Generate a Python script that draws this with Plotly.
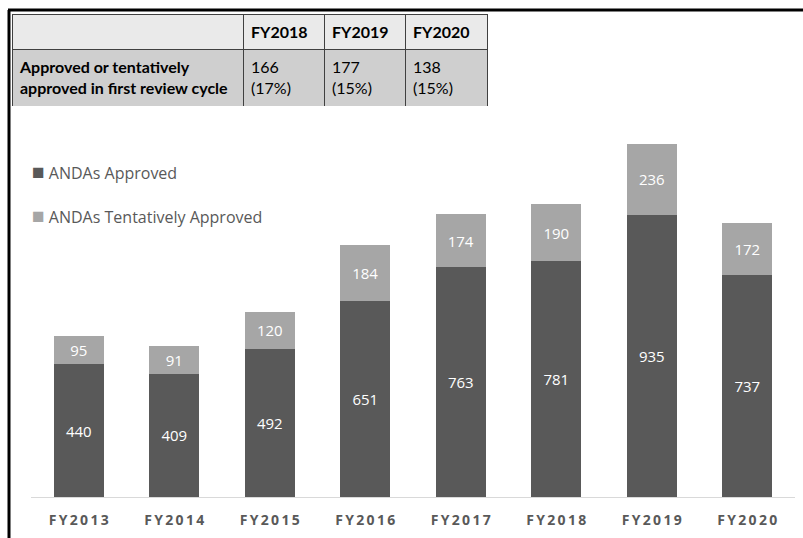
import plotly.graph_objects as go

# ---- data ----
years = ["FY2013", "FY2014", "FY2015", "FY2016", "FY2017", "FY2018", "FY2019", "FY2020"]
approved = [440, 409, 492, 651, 763, 781, 935, 737]
tentative = [95, 91, 120, 184, 174, 190, 236, 172]
series_names = ["ANDAs Approved", "ANDAs Tentatively Approved"]

table_years = ["FY2018", "FY2019", "FY2020"]
first_cycle_counts = [166, 177, 138]
first_cycle_pct = [17, 15, 15]
table_row_label = "Approved or tentatively<br>approved in first review cycle"

W, H = 803, 538
DARK = "#595959"
LIGHT = "#A6A6A6"

def px(x):
    return x / W

def py(y):
    return 1 - y / H

def spaced(s):
    return "\u2009".join(s)

fig = go.Figure()

for vals, name, col in [(approved, series_names[0], DARK), (tentative, series_names[1], LIGHT)]:
    fig.add_trace(go.Bar(
        x=years, y=vals, name=name,
        marker=dict(color=col, line=dict(width=0)),
        text=[str(v) for v in vals], textposition="inside",
        insidetextanchor="middle",
        textfont=dict(color="white", size=15, family="Open Sans"),
        width=0.52, showlegend=False, hoverinfo="skip",
    ))

fig.add_trace(go.Table(
    domain=dict(x=[px(12), px(487)], y=[py(106), py(14)]),
    columnwidth=[231, 81, 81, 82],
    header=dict(
        values=[""] + ["<b>%s</b>" % y for y in table_years],
        fill_color="#EAEAEA",
        line=dict(color="#404040", width=1),
        align="left",
        font=dict(family="Lato", size=16, color="black"),
        height=33,
    ),
    cells=dict(
        values=[["<b>%s</b>" % table_row_label]] +
               [["%d<br>(%d%%)" % (c, p)] for c, p in zip(first_cycle_counts, first_cycle_pct)],
        fill_color="#CFCFCF",
        line=dict(color="#404040", width=1),
        align="left",
        font=dict(family="Lato", size=16, color="black"),
        height=58,
    ),
))

legend_anns = []
for i, (name, col) in enumerate(zip(series_names, [DARK, LIGHT])):
    legend_anns.append(dict(
        xref="paper", yref="paper", x=px(30), y=py(171 + 44 * i),
        xanchor="left", yanchor="middle", showarrow=False,
        text="<span style='color:%s;font-size:21px'>■</span> %s" % (col, name),
        font=dict(family="Open Sans", size=16, color=DARK),
    ))

fig.update_layout(
    width=W, height=H,
    margin=dict(l=0, r=0, t=0, b=0),
    paper_bgcolor="white", plot_bgcolor="white",
    barmode="stack",
    showlegend=False,
    annotations=legend_anns,
    xaxis=dict(
        domain=[px(31), px(795)], range=[-0.5, 7.5],
        showline=True, linecolor="#D9D9D9", linewidth=1,
        showgrid=False, ticks="", automargin=False,
        tickmode="array", tickvals=years,
        ticktext=["<b>%s</b>" % spaced(y) for y in years],
        tickfont=dict(family="Open Sans", size=14, color=DARK),
        ticklabelstandoff=10,
    ),
    yaxis=dict(
        domain=[py(497), py(110)], range=[0, 1283],
        visible=False, showgrid=False, zeroline=False, automargin=False,
    ),
    shapes=[
        dict(type="line", xref="paper", yref="paper",
             x0=px(9), x1=px(9), y0=0, y1=py(10),
             line=dict(color="black", width=3)),
        dict(type="line", xref="paper", yref="paper",
             x0=px(8), x1=1, y0=py(10), y1=py(10),
             line=dict(color="black", width=3)),
    ],
)

fig.write_html("out.html", config={"displayModeBar": False},
               post_script="document.body.style.margin='0';document.body.style.overflow='hidden';")
